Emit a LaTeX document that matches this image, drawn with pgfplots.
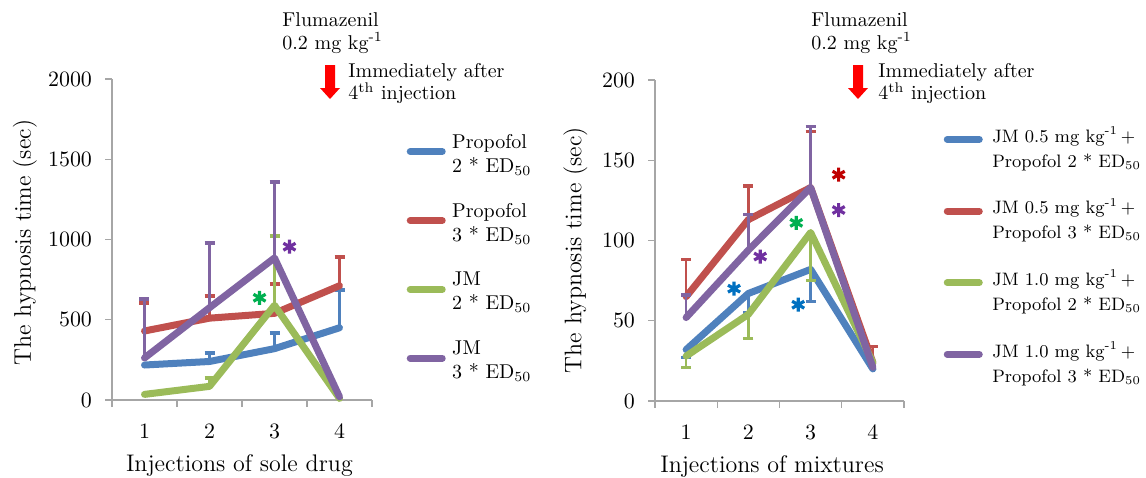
\documentclass[border=0pt]{standalone}
\usepackage{pgfplots}
\pgfplotsset{compat=1.18}
\definecolor{cblue}{HTML}{4F81BD}
\definecolor{cred}{HTML}{C0504D}
\definecolor{cgreen}{HTML}{9BBB59}
\definecolor{cpurple}{HTML}{8064A2}
\definecolor{sblue}{HTML}{0070C0}
\definecolor{sred}{HTML}{C00000}
\definecolor{sgreen}{HTML}{00B050}
\definecolor{spurple}{HTML}{7030A0}
\definecolor{axgray}{HTML}{A6A6A6}
\pgfplotsset{
  myax/.style={
    scale only axis, height=160.5pt,
    xmin=0.5, xmax=4.5, ymin=0,
    xtick={1,2,3,4},
    minor xtick={0.5,1.5,2.5,3.5,4.5},
    major x tick style={draw=none},
    axis lines*=left,
    axis line style={axgray, line width=0.7pt},
    tick align=outside,
    tick style={axgray, line width=0.7pt},
    major tick length=3.5pt, minor tick length=3.5pt,
    /pgf/number format/1000 sep={},
    tick label style={font=\fontsize{10.5}{12}\selectfont},
    xticklabel style={yshift=-5pt},
    yticklabel style={xshift=-3pt},
    clip=false,
    legend cell align=left,
    legend style={draw=none, fill=none, row sep=10pt,
      cells={align=left}, anchor=north west},
    label style={font=\large},
  },
  ln/.style={line width=3.5pt, line join=round, line cap=round, mark=none, color=#1},
  ebup/.style={forget plot, draw=none, mark=none,
    error bars/y dir=plus, error bars/y explicit,
    error bars/error bar style={draw=#1, line width=1.2pt, solid},
    error bars/error mark options={draw=#1, rotate=90, mark size=2.5pt, line width=1.6pt}},
  ebdn/.style={forget plot, draw=none, mark=none,
    error bars/y dir=minus, error bars/y explicit,
    error bars/error bar style={draw=#1, line width=1.2pt, solid},
    error bars/error mark options={draw=#1, rotate=90, mark size=2.5pt, line width=1.6pt}},
  star/.style={forget plot, only marks, mark=asterisk, mark size=3.5pt, line width=1.6pt, color=#1},
}
\begin{document}
\begin{tikzpicture}
\useasboundingbox (0,0) rectangle (573pt,-238.5pt);
% ---------------- left panel ----------------
\begin{axis}[myax, at={(56pt,-200pt)}, anchor=south west, width=130pt,
  ymax=2000, ytick={0,500,1000,1500,2000},
  ylabel={The hypnosis time (sec)},
  ylabel style={at={(axis description cs:-0.335,0.49)}, anchor=center},
  xlabel={Injections of sole drug},
  xlabel style={at={(axis description cs:0.49,-0.205)}, anchor=center},
  legend style={at={(axis description cs:1.109,0.855)}},
  legend image code/.code={\path[draw=none] (0pt,0pt) -- (20pt,0pt);
    \draw[#1, line width=3.5pt, line cap=round] (1pt,1.5pt) -- (17pt,1.5pt);},
]
\addplot[ebup=cblue] coordinates {(2,240) +- (0,53) (3,320) +- (0,97) (4,450) +- (0,235)};
\addplot[ln=cblue] coordinates {(1,218) (2,240) (3,320) (4,450)};
\addlegendentry{Propofol\\2 * ED$_{50}$}
\addplot[ebup=cred] coordinates {(1,430) +- (0,174) (2,510) +- (0,138) (3,540) +- (0,183) (4,712) +- (0,179)};
\addplot[ln=cred] coordinates {(1,430) (2,510) (3,540) (4,712)};
\addlegendentry{Propofol\\3 * ED$_{50}$}
\addplot[ebup=cgreen] coordinates {(2,85) +- (0,52) (3,590) +- (0,432)};
\addplot[ln=cgreen] coordinates {(1,35) (2,85) (3,590) (4,10)};
\addlegendentry{JM\\2 * ED$_{50}$}
\addplot[ebup=cpurple] coordinates {(1,262) +- (0,367) (2,575) +- (0,403) (3,885) +- (0,473)};
\addplot[ln=cpurple] coordinates {(1,262) (2,575) (3,885) (4,20)};
\addlegendentry{JM\\3 * ED$_{50}$}
\addplot[star=spurple] coordinates {(3.23,955)};
\addplot[star=sgreen] coordinates {(2.77,637)};
\end{axis}
% ---------------- right panel ----------------
\begin{axis}[myax, at={(327.5pt,-200.5pt)}, anchor=south west, width=124.5pt,
  ymax=200, ytick={0,50,100,150,200},
  ylabel={The hypnosis time (sec)},
  ylabel style={at={(axis description cs:-0.32,0.47)}, anchor=center},
  xlabel={Injections of mixtures},
  xlabel style={at={(axis description cs:0.47,-0.205)}, anchor=center},
  legend style={at={(axis description cs:1.134,0.881)}, font=\fontsize{9}{12.5}\selectfont},
  legend image code/.code={\path[draw=none] (0pt,0pt) -- (21.5pt,0pt);
    \draw[#1, line width=3.5pt, line cap=round] (1pt,4.5pt) -- (17pt,4.5pt);},
]
\addplot[ebdn=cblue] coordinates {(1,32) +- (0,5) (2,67) +- (0,12) (3,82) +- (0,20)};
\addplot[ln=cblue] coordinates {(1,32) (2,67) (3,82) (4,20)};
\addlegendentry{JM 0.5 mg kg\textsuperscript{-1}\,+\\Propofol 2 * ED$_{50}$}
\addplot[ebup=cred] coordinates {(1,65) +- (0,23) (2,113) +- (0,21) (3,133) +- (0,35) (4,24) +- (0,10)};
\addplot[ln=cred] coordinates {(1,65) (2,113) (3,133) (4,24)};
\addlegendentry{JM 0.5 mg kg\textsuperscript{-1}\,+\\Propofol 3 * ED$_{50}$}
\addplot[ebdn=cgreen] coordinates {(1,28) +- (0,7) (2,54) +- (0,15) (3,105) +- (0,30)};
\addplot[ln=cgreen] coordinates {(1,28) (2,54) (3,105) (4,24)};
\addlegendentry{JM 1.0 mg kg\textsuperscript{-1}\,+\\Propofol 2 * ED$_{50}$}
\addplot[ebup=cpurple] coordinates {(1,52) +- (0,14) (2,94) +- (0,22) (3,133) +- (0,38)};
\addplot[ln=cpurple] coordinates {(1,52) (2,94) (3,133) (4,21)};
\addlegendentry{JM 1.0 mg kg\textsuperscript{-1}\,+\\Propofol 3 * ED$_{50}$}
\addplot[star=sred] coordinates {(3.45,141)};
\addplot[star=spurple] coordinates {(3.45,119)};
\addplot[star=sgreen] coordinates {(2.77,111)};
\addplot[star=spurple] coordinates {(2.19,90)};
\addplot[star=sblue] coordinates {(1.77,70)};
\addplot[star=sblue] coordinates {(2.80,60)};
\end{axis}
% ---------------- annotations ----------------
\node[anchor=west, inner sep=0pt] at (141pt,-10pt) {Flumazenil};
\node[anchor=west, inner sep=0pt] at (141pt,-21.5pt) {0.2 mg kg\textsuperscript{-1}};
\node[anchor=west, inner sep=0pt] at (174pt,-36pt) {Immediately after};
\node[anchor=west, inner sep=0pt] at (174pt,-46.5pt) {4\textsuperscript{th} injection};
\fill[red] (162.5pt,-32.5pt) -- (167.5pt,-32.5pt) -- (167.5pt,-44pt) -- (170pt,-44pt)
  -- (165pt,-49.5pt) -- (160pt,-44pt) -- (162.5pt,-44pt) -- cycle;
\node[anchor=west, inner sep=0pt] at (405.5pt,-10pt) {Flumazenil};
\node[anchor=west, inner sep=0pt] at (405.5pt,-21.5pt) {0.2 mg kg\textsuperscript{-1}};
\node[anchor=west, inner sep=0pt] at (439pt,-36pt) {Immediately after};
\node[anchor=west, inner sep=0pt] at (439pt,-46.5pt) {4\textsuperscript{th} injection};
\fill[red] (426.5pt,-32.5pt) -- (431.5pt,-32.5pt) -- (431.5pt,-44pt) -- (434pt,-44pt)
  -- (429pt,-49.5pt) -- (424pt,-44pt) -- (426.5pt,-44pt) -- cycle;
\end{tikzpicture}
\end{document}
